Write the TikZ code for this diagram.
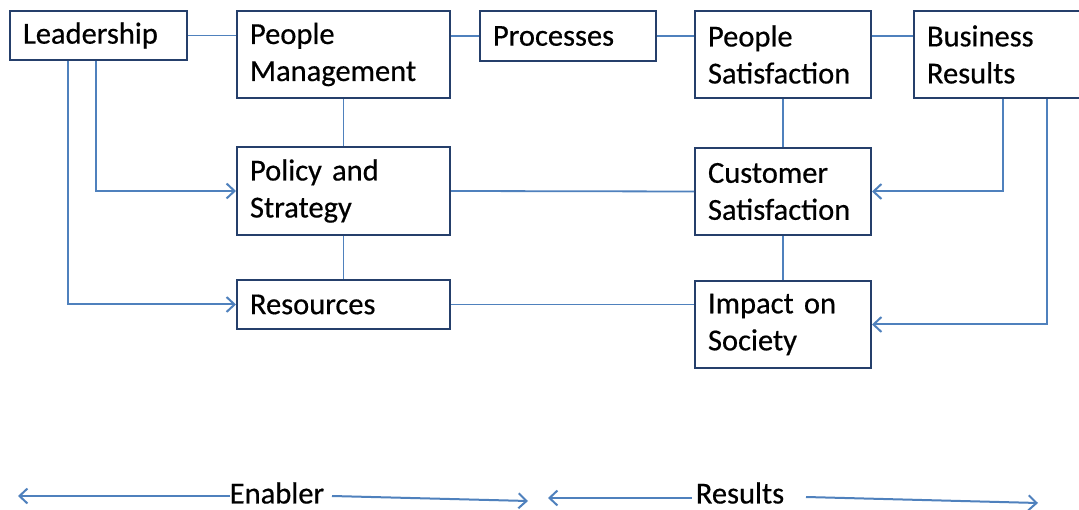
\documentclass[tikz,border=0pt]{standalone}
\usepackage{fontspec}
\setmainfont{Carlito}[FakeBold=0.5]
\usetikzlibrary{arrows.meta}
\definecolor{boxc}{HTML}{253F6B}
\definecolor{linec}{HTML}{4F81BD}
\begin{document}
\begin{tikzpicture}[x=1pt,y=-1pt,
  box/.style={draw=boxc,line width=2pt,rectangle,anchor=north west,align=left,
    inner xsep=13pt,inner ysep=0pt,font=\fontsize{30.5}{37}\selectfont},
  conn/.style={draw=linec,line width=1.8pt},
  arr/.style={conn,line width=2pt,-{Straight Barb[length=8pt,width=15pt]}},
  lbl/.style={font=\fontsize{30.5}{37}\selectfont,inner sep=0pt}]
\clip (0,0) rectangle (1079,510);
\fill[white] (0,0) rectangle (1079,510);
% boxes
\node[box,text width=151pt,minimum height=49pt] (L) at (9,10) {\raisebox{-2pt}{Leadership}};
\node[box,text width=187pt,minimum height=87pt] (PM) at (236,10) {People\\Management};
\node[box,text width=150pt,minimum height=50pt] (Pr) at (479,10) {\raisebox{-2pt}{Processes}};
\node[box,text width=150pt,minimum height=87pt] (PS) at (694,10) {People\\Satisfaction};
\node[box,text width=161pt,minimum height=87pt] (BR) at (913,10) {Business\\Results};
\node[box,text width=187pt,minimum height=88pt] (PoS) at (236,146) {Policy and\\Strategy};
\node[box,text width=150pt,minimum height=87pt] (CS) at (694,147) {Customer\\Satisfaction};
\node[box,text width=187pt,minimum height=49pt] (Res) at (236,279) {\raisebox{-2pt}{Resources}};
\node[box,text width=150pt,minimum height=87pt] (IoS) at (694,280) {Impact on\\Society};
% plain connectors
\draw[conn] (L.east) -- (L.east -| PM.west);
\draw[conn] (Pr.west) -- (Pr.west -| PM.east);
\draw[conn] (Pr.east) -- (Pr.east -| PS.west);
\draw[conn] (PS.east |- 0,36) -- (BR.west |- 0,36);
\draw[conn] (PM.south) -- (PoS.north);
\draw[conn] (PoS.south) -- (Res.north);
\draw[conn] (PS.south) -- (CS.north);
\draw[conn] (CS.south) -- (IoS.north);
\draw[conn] (PoS.east) -- (CS.west);
\draw[conn] (Res.east) -- (Res.east -| IoS.west);
% arrows
\draw[arr] (L.south -| 96,0) |- (PoS.west);
\draw[arr] (L.south -| 68,0) |- (Res.west);
\draw[arr] (BR.south -| 1003,0) |- (CS.east);
\draw[arr] (BR.south -| 1047,0) |- (IoS.east);
% bottom labels
\node[lbl] (en) at (277,493) {Enabler};
\node[lbl] (re) at (740,493) {Results};
\coordinate (e1) at (18,496);
\coordinate (e2) at (332,496);
\coordinate (e3) at (528,501);
\coordinate (r1) at (548,498);
\coordinate (r2) at (806,497);
\coordinate (r3) at (1038,503);
\draw[arr] (en.west |- e1) -- (e1);
\draw[arr] (e2) -- (e3);
\draw[arr] (re.west |- r1) ++(-4,0) -- (r1);
\draw[arr] (r2) -- (r3);
\end{tikzpicture}
\end{document}
